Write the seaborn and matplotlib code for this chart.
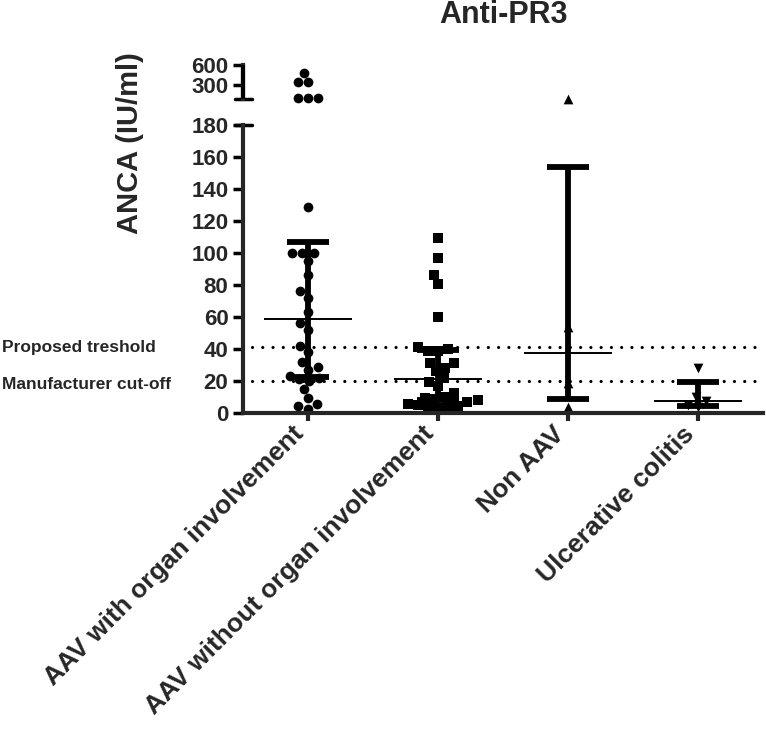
import numpy as np
import pandas as pd
import matplotlib
matplotlib.use('Agg')
import matplotlib.pyplot as plt
import matplotlib.transforms as mtransforms
from matplotlib.lines import Line2D
from matplotlib.ticker import FixedLocator, FixedFormatter, NullLocator
import seaborn as sns

# ---- data ----
categories = ["AAV with organ involvement", "AAV without organ involvement",
              "Non AAV", "Ulcerative colitis"]
markers = ["o", "s", "^", "v"]

aav_organ = [455, 333, 333, 190, 190, 190,
             129, 100, 100, 100, 95, 86, 76, 72, 63, 56, 52, 42, 38, 32,
             29, 27, 23, 22, 21, 20, 15, 9.5, 5.5, 4.5, 2.5]
aav_no_organ = [109.5, 97, 86, 80.5, 60, 41, 40, 39, 39, 31, 31, 28, 26, 22,
                19.5, 17, 12.5, 10, 9.5, 8.7, 8, 7, 5.6, 5, 4.4, 4, 3.5, 3]
non_aav = [187, 54, 19, 4]
ulc_colitis = [28, 10, 7.5, 5, 4]
groups = [aav_organ, aav_no_organ, non_aav, ulc_colitis]

# median with interquartile range
medians = [59, 21, 37.5, 7.5]
q1 = [22.5, 8, 8.5, 4.5]
q3 = [107, 39.5, 154, 19.5]

proposed_threshold = 41
manufacturer_cutoff = 20
lower_ticks = list(range(0, 181, 20))
upper_ticks = [300, 600]
break_value = 180
upper_floor = 185

# ---- styling ----
sns.set_style("ticks")
plt.rcParams['font.family'] = ['Liberation Sans', 'DejaVu Sans']
plt.rcParams['font.weight'] = 'bold'

fig = plt.figure(figsize=(7.66, 7.35), dpi=100)
W, H = 766, 735
ax = fig.add_axes([243 / W, 1 - 413 / H, 520 / W, 288 / H])
ax_top = fig.add_axes([243 / W, 1 - 99 / H, 520 / W, 34 / H])

ax_top.set_yscale('log')
ax_top.set_ylim(upper_floor, 600)
ax.set_ylim(0, break_value)

for cat, vals, m in zip(categories, groups, markers):
    vals = np.array(vals, dtype=float)
    low = vals[vals <= break_value]
    high = vals[vals > break_value]
    sns.swarmplot(x=[cat] * len(low), y=low, order=categories, marker=m,
                  color='black', size=7, linewidth=0, ax=ax, clip_on=False,
                  zorder=2)
    if len(high):
        sns.swarmplot(x=[cat] * len(high), y=high, order=categories, marker=m,
                      color='black', size=7, linewidth=0, ax=ax_top,
                      clip_on=False, zorder=2)

xpos = np.arange(len(categories))
med = np.array(medians)
ax.errorbar(xpos, med, yerr=[med - np.array(q1), np.array(q3) - med],
            fmt='none', ecolor='black', elinewidth=4.2, capsize=15,
            capthick=4.2, zorder=3, clip_on=False)
ax.hlines(medians, xpos - 0.335, xpos + 0.335, color='black', lw=1.4,
          zorder=4)

for yv in [proposed_threshold, manufacturer_cutoff]:
    ax.axhline(yv, xmin=0.017, xmax=1, color='black', lw=2.3,
               linestyle=(0, (0.01, 3.2)), dash_capstyle='round', zorder=1)

# axes cosmetics
for a in (ax, ax_top):
    a.set_xlim(-0.5, 3.5)
    a.set_xlabel('')
    a.set_ylabel('')
    a.spines['top'].set_visible(False)
    a.spines['right'].set_visible(False)
    a.spines['left'].set_linewidth(3)
    a.tick_params(axis='y', length=7, width=2.5, pad=3.5, labelsize=16,
                  color='black')
    a.patch.set_alpha(0)

ax.spines['bottom'].set_linewidth(3)
ax.set_yticks(lower_ticks)
ax.set_xticks(xpos)
ax.set_xticklabels(categories, rotation=45, ha='right',
                   rotation_mode='anchor', fontsize=19, fontweight='bold')
ax.tick_params(axis='x', length=6, width=3, pad=6)
shift = mtransforms.ScaledTranslation(-0.16, 0.08, fig.dpi_scale_trans)
for lab in ax.get_xticklabels():
    lab.set_transform(lab.get_transform() + shift)

ax_top.spines['bottom'].set_visible(False)
ax_top.set_xticks([])
ax_top.yaxis.set_major_locator(FixedLocator(upper_ticks))
ax_top.yaxis.set_major_formatter(FixedFormatter([str(t) for t in upper_ticks]))
ax_top.yaxis.set_minor_locator(NullLocator())

for a in (ax, ax_top):
    for lab in a.get_yticklabels():
        lab.set_fontweight('bold')

# upper segment axis line and caps at the axis break
fig.add_artist(Line2D([0, 0], [0, 1], color='black', lw=3, zorder=10,
                      transform=ax_top.transAxes, solid_capstyle='butt'))
ax.plot([-0.016, 0.018], [break_value, break_value], color='black', lw=2.5,
        transform=ax.get_yaxis_transform(), clip_on=False)
ax_top.plot([-0.016, 0.018], [upper_floor, upper_floor], color='black',
            lw=2.5, transform=ax_top.get_yaxis_transform(), clip_on=False)

# texts
fig.text(503 / W, 1 - 15 / H, 'Anti-PR3', ha='center', va='center',
         fontsize=22, fontweight='bold')
fig.text(130 / W, 1 - 143 / H, 'ANCA (IU/ml)', rotation=90, ha='center',
         va='center', fontsize=21, fontweight='bold')
trans = mtransforms.blended_transform_factory(fig.transFigure, ax.transData)
ax.text(2 / W, proposed_threshold, 'Proposed treshold', transform=trans,
        ha='left', va='center', fontsize=12.5, fontweight='bold')
ax.text(2 / W, manufacturer_cutoff - 2, 'Manufacturer cut-off', transform=trans,
        ha='left', va='center', fontsize=12.5, fontweight='bold')

fig.savefig('out.png', dpi=100, facecolor='white')
